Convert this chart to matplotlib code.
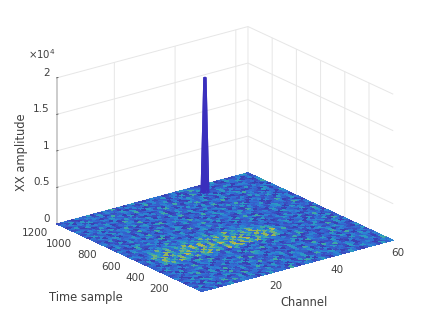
import numpy as np
import matplotlib
matplotlib.use("Agg")
import matplotlib.pyplot as plt
from matplotlib.colors import LinearSegmentedColormap, Normalize

plt.rcParams.update({"font.family": "DejaVu Sans", "font.size": 7.5})

TXT = "#404040"
GRID = "#e6e6e6"

channel_ticks = [20, 40, 60]
time_ticks = [200, 400, 600, 800, 1000, 1200]
amp_ticks = [0, 5000, 10000, 15000, 20000]
amp_labels = ["0", "0.5", "1", "1.5", "2"]

# colour level of each floor cell as seen in the picture, one digit per channel bin,
# one row per time bin, low time first
floor_rows = [
    "231402351243 320415233162 024313520341 253102431524",
    "403225113624 152033421305 241650312243 014235320143",
    "152340261325 043312514230 315204231451 320512343026",
    "320513243014 261342035124 403251164302 231540223415",
    "214035322541 303126420315 224351033142 512430315203",
    "042351410326 225134032461 130342251403 263104225314",
    "335102243150 414203361225 041532340216 324011532442",
    "120443315026 233105424132 352014263340 115323042513",
    "403216025341 132450312204 441325103262 230415320341",
    "231354120432 504223161340 213025344102 352140263125",
    "124023451302 231436012543 320415123064 213352401232",
    "340512233140 325014322651 042231350414 320216343105",
    "213304261435 102343205124 631420235102 441325024213",
    "052341130423 621234150342 203154322640 131024352310",
    "314220431562 034215233104 425103341226 302451130442",
    "241035324103 253412026341 131524300425 214033261504",
    "203647386527 468375294683 758463864203 241352012431",
    "331574628463 275846375928 463758274331 024315241063",
    "142486357294 638475263847 592638475261 340213425102",
    "250538274658 362748596374 826384759342 213504132451",
    "314764825376 485927364758 274638526403 142230514023",
    "023475386247 593846275384 627483465212 350341026314",
    "241364527364 825364738462 546375342031 423105243240",
    "430253746352 463527346458 363542413320 125342013152",
    "122344253524 354235461342 534243212403 241513430261",
    "315220431362 143402351423 024313240352 130224315104",
    "204351124035 320214343102 531240325014 421053234231",
    "431062352410 253341024532 143205123460 232410351324",
    "120345213346 014252310435 220341536102 341523024113",
    "352401243120 534103262413 305124023341 210345312640",
    "043125320542 213354012346 142433105234 023145231302",
    "231504143263 042315401223 351024324516 314202340153",
    "412023351402 361324025134 203415243201 423510263241",
    "305142230413 125403214362 041253130425 132304215340",
    "123450321264 302114352403 226340351142 503241320413",
    "240313425103 241560324012 314023412536 120432153024",
    "314205134320 453012233461 042351204213 342015324305",
    "052341243615 120334205142 350124361023 214253140322",
    "321403510243 263140423015 223405142360 331024215403",
    "143252031324 402351136024 315242013435 102463320514",
    "204315340216 324103425132 041326351204 243510132340",
    "432102253401 531244013263 120453240315 024132514203",
    "120534312043 215032341504 362104235140 351420231026",
    "351240124352 403261053124 214035320412 253103442315",
    "023415320136 224351401323 503241163042 132540213204",
    "240351243402 135014236142 320415032534 401223350142",
    "315102431524 320243105341 251340126320 243105324031",
    "132043250314 261403521024 330142543210 325024113452",
]

# the narrow peak, its own little surface on the floor
peak_channel = [44.8, 45.7, 46.3, 47.2]
peak_time = [1085, 1098, 1110, 1123]
peak_amp = [
    [100, 100, 100, 100],
    [100, 15800, 15800, 100],
    [100, 15800, 15800, 100],
    [100, 100, 100, 100],
]

floor_colors = ["#3a40b4", "#3a4ec0", "#365fcb", "#3070d2", "#2c84d2",
                "#2c98c4", "#3fa8a4", "#6eb180", "#95b55a", "#b5b84c"]
floor_cmap = LinearSegmentedColormap.from_list("floor", floor_colors)

floor_level = np.array([[int(c) for c in r.replace(" ", "")] for r in floor_rows])
ch_edges = np.linspace(1, 64, floor_level.shape[1] + 1)
t_edges = np.linspace(0, 1200, floor_level.shape[0] + 1)

fig = plt.figure(figsize=(4.36, 3.27), dpi=100)
ax = fig.add_axes([2.5 / 436, 0.0, 1.0, 1.0], projection="3d", proj_type="ortho", computed_zorder=False)
ax.view_init(elev=20.7, azim=-127.2)
ax.set_box_aspect((1, 1, 0.65), zoom=1.11)

X, Y = np.meshgrid(ch_edges, t_edges)
Z = np.zeros_like(X)
s1 = ax.plot_surface(X, Y, Z, facecolors=floor_cmap(Normalize(0, 9)(floor_level)), shade=False,
                     rstride=1, cstride=1, linewidth=0, antialiased=False, zorder=2)
s1.set_clip_on(False)

PX, PY = np.meshgrid(peak_channel, peak_time)
s2 = ax.plot_surface(PX, PY, np.array(peak_amp), color="#3a2fbd", shade=False,
                     rstride=1, cstride=1, linewidth=0, antialiased=True, zorder=3)
s2.set_clip_on(False)

ax.set_xlim(1, 64, view_margin=0)
ax.set_ylim(0, 1200, view_margin=0)
ax.set_zlim(0, 20000, view_margin=0)
ax.set_xticks(channel_ticks)
ax.set_yticks(time_ticks)
ax.set_zticks(amp_ticks)
ax.set_zticklabels(amp_labels)
ax.tick_params(colors=TXT, labelsize=7.5)
ax.tick_params(axis="x", pad=0.5)
ax.tick_params(axis="y", pad=-2.5)
ax.tick_params(axis="z", pad=-5.5)
plt.setp(ax.get_xticklabels(), ha="left", va="bottom")
plt.setp(ax.get_yticklabels(), ha="right", va="center")
plt.setp(ax.get_zticklabels(), ha="right", va="bottom")

for a in (ax.xaxis, ax.yaxis, ax.zaxis):
    a.set_pane_color((1, 1, 1, 0))
    a.pane.set_edgecolor("none")
    a._axinfo["grid"].update(color=GRID, linewidth=0.7)
    a._axinfo["tick"].update(color="#888888", linewidth={True: 0.5, False: 0.3},
                             inward_factor=0, outward_factor=0.1)
ax.xaxis.line.set_color("none")
ax.yaxis.line.set_color("none")
ax.zaxis.line.set_color("#c8c8c8")
ax.zaxis.line.set_linewidth(1.3)

fig.text(304 / 436, 1 - 302 / 327, "Channel", color=TXT, fontsize=8.3, ha="center", va="center")
fig.text(86 / 436, 1 - 298 / 327, "Time sample", color=TXT, fontsize=8.3, ha="center", va="center")
fig.text(21 / 436, 1 - 152 / 327, "XX amplitude", color=TXT, fontsize=8.3, rotation=90, ha="center", va="center")
fig.text(28 / 436, 1 - 59 / 327, r"$\times$10$^4$", color=TXT, fontsize=7.3)
fig.savefig("out.png", dpi=100)
